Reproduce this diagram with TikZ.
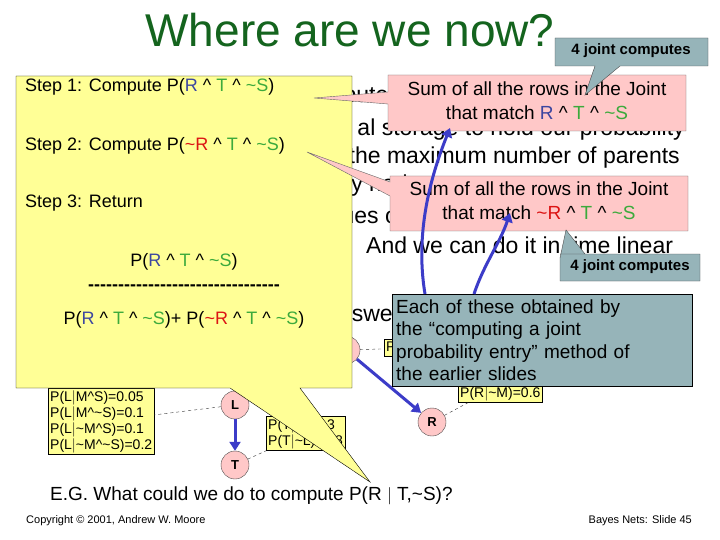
\documentclass[tikz,border=0pt]{standalone}
\usepackage{fontspec}
\setmainfont{Liberation Sans}
\usetikzlibrary{arrows.meta}
\definecolor{ttl}{RGB}{20,100,30}
\definecolor{rb}{RGB}{60,70,160}
\definecolor{gg}{RGB}{60,170,60}
\definecolor{rr}{RGB}{220,20,20}
\definecolor{pk}{RGB}{255,200,200}
\definecolor{yl}{RGB}{255,255,150}
\definecolor{gb}{RGB}{150,180,185}
\definecolor{bl}{RGB}{60,60,200}
\newcommand{\R}{\textcolor{rb}{R}}
\newcommand{\Tg}{\textcolor{gg}{T}}
\newcommand{\Sg}{\textcolor{gg}{\textasciitilde S}}
\newcommand{\nR}{\textcolor{rr}{\textasciitilde R}}
\tikzset{
 bg/.style={font=\fontsize{23}{24}\selectfont,inner sep=0},
 bnode/.style={circle,fill=pk,draw=black!70,minimum size=28pt,inner sep=0,font=\bfseries\fontsize{13}{13}\selectfont},
 tbl/.style={fill=yl,draw=black,font=\fontsize{14}{16}\selectfont,align=left,inner sep=2pt},
 barrow/.style={bl,line width=3pt,-{Triangle[length=9pt,width=11pt]}},
 dsh/.style={dashed,black!80,thin},
 stp/.style={font=\fontsize{18}{20}\selectfont,anchor=west,inner sep=0},
 ctext/.style={font=\fontsize{19}{24}\selectfont,align=center,inner sep=0},
}
\begin{document}
\begin{tikzpicture}[x=1pt,y=-1pt]
\useasboundingbox[fill=white] (0,0) rectangle (720,540);
\node[font=\fontsize{46}{46}\selectfont,text=ttl] (title) at (350,30) {Where are we now?};
% background slide text
\node[bg,anchor=west] (b1) at (300,97) {compute};
\node[bg,anchor=east] (b2) at (685,130) {al storage to hold our probability};
\node[bg,anchor=east] (b3) at (680,158) {table. Only exponential in the maximum number of parents};
\node[bg,anchor=west] (b4) at (300,186) {of any node.};
\node[bg,anchor=west] (b5) at (312,215) {values of the variables.};
\node[bg,anchor=west] (b6) at (366,245) {And we can do it in time linear};
\node[bg,anchor=west] (b7) at (326,316) {answers to any questions.};
% net
\node[bnode] (M) at (255,345) {M};
\node[bnode] (S) at (346,350) {S};
\node[bnode] (L) at (235,405) {L};
\node[bnode] (T) at (235,465) {T};
\node[bnode] (Rn) at (432,422) {R};
\draw[barrow] (S) -- (Rn);
\draw[barrow] (M) -- (L);
\draw[barrow] (S) -- (L);
\draw[barrow] (L) -- (T);
\node[tbl,anchor=north west] (tL) at (48,388) {P(L$|$M\^{}S)=0.05\\P(L$|$M\^{}\textasciitilde S)=0.1\\P(L$|$\textasciitilde M\^{}S)=0.1\\P(L$|$\textasciitilde M\^{}\textasciitilde S)=0.2};
\node[tbl,anchor=north west] (tT) at (266,416) {P(T$|$L)=0.3\\P(T$|$\textasciitilde L)=0.8};
\node[tbl,anchor=north west] (tR) at (458,368) {P(R$|$M)=0.3\\P(R$|$\textasciitilde M)=0.6};
\node[tbl,anchor=west] (tS) at (384,348) {P(S)=0.3};
\draw[dsh] (L) -- (tL);
\draw[dsh] (T) -- (tT.south west);
\draw[dsh] (Rn) -- (tR);
\draw[dsh] (S) -- (tS);
% yellow callout
\coordinate (ytip) at (370,482);
\filldraw[fill=yl,draw=black] (16,76) -- (352,76) -- (352,388) -- (300,388) -- (ytip) -- (230,388) -- (16,388) -- cycle;
\node[stp] (s1) at (25,87) {Step 1: Compute P(\R\ \^{} \Tg\ \^{} \Sg)};
\node[stp] (s2) at (25,146) {Step 2: Compute P(\nR\ \^{} \Tg\ \^{} \Sg)};
\node[stp] (s3) at (25,203) {Step 3: Return};
\node[font=\fontsize{18}{20}\selectfont,inner sep=0] (n1) at (184,262) {P(\R\ \^{} \Tg\ \^{} \Sg)};
\node[font=\bfseries\fontsize{18}{20}\selectfont,inner sep=0] (ln) at (184,288) {-{}-{}-{}-{}-{}-{}-{}-{}-{}-{}-{}-{}-{}-{}-{}-{}-{}-{}-{}-{}-{}-{}-{}-{}-{}-{}-{}-{}-{}-{}-{}-};
\node[font=\fontsize{18}{20}\selectfont,inner sep=0] (d1) at (184,320) {P(\R\ \^{} \Tg\ \^{} \Sg)+ P(\nR\ \^{} \Tg\ \^{} \Sg)};
% pink callouts
\coordinate (p1tip) at (314,98);
\filldraw[fill=pk,draw=black!60] (388,75) -- (686,75) -- (686,131) -- (388,131) -- (388,104) -- (p1tip) -- (388,92) -- cycle;
\node[ctext] (p1) at (537,101) {Sum of all the rows in the Joint\\that match \R\ \^{} \Tg\ \^{} \Sg};
\coordinate (p2tip) at (307,152);
\filldraw[fill=pk,draw=black!60] (390,176) -- (688,176) -- (688,231) -- (390,231) -- (390,196) -- (p2tip) -- (390,182) -- cycle;
\node[ctext] (p2) at (539,201) {Sum of all the rows in the Joint\\that match \nR\ \^{} \Tg\ \^{} \Sg};
% gray callouts
\coordinate (g2tip) at (566,230);
\filldraw[fill=gb,draw=black!70] (560,254) -- (700,254) -- (700,281) -- (560,281) -- (560,258) -- (g2tip) -- (585,254) -- cycle;
\node[font=\bfseries\fontsize{15}{17}\selectfont,inner sep=0] (g2) at (630,267) {4 joint computes};
\node[fill=gb,draw=black,anchor=north west,minimum width=300pt,minimum height=92pt,text width=292pt,align=left,inner sep=3pt,font=\fontsize{19}{22.5}\selectfont] (gbig) at (392,294) {Each of these obtained by\\the “computing a joint\\probability entry” method of\\the earlier slides};
\draw[barrow] ([xshift=33pt]gbig.north west) .. controls +(-10,-60) and +(-20,50) .. (450,128);
\draw[barrow] ([xshift=82pt]gbig.north west) .. controls +(10,-30) and +(-10,30) .. (510,213);
\coordinate (g1tip) at (585,95);
\filldraw[fill=gb,draw=black!70] (555,38) -- (708,38) -- (708,66) -- (620,66) -- (g1tip) -- (595,66) -- (555,66) -- cycle;
\node[font=\bfseries\fontsize{15}{17}\selectfont,inner sep=0] (g1) at (631,51) {4 joint computes};
% bottom
\node[font=\fontsize{19}{20}\selectfont,anchor=west,inner sep=0] (eg) at (50,496) {E.G. What could we do to compute P(R $|$ T,\textasciitilde S)?};
\node[font=\fontsize{11}{12}\selectfont,anchor=west,inner sep=0] (cp) at (26,521) {Copyright © 2001, Andrew W. Moore};
\node[font=\fontsize{11}{12}\selectfont,anchor=east,inner sep=0] (sl) at (692,521) {Bayes Nets: Slide 45};
\end{tikzpicture}
\end{document}
